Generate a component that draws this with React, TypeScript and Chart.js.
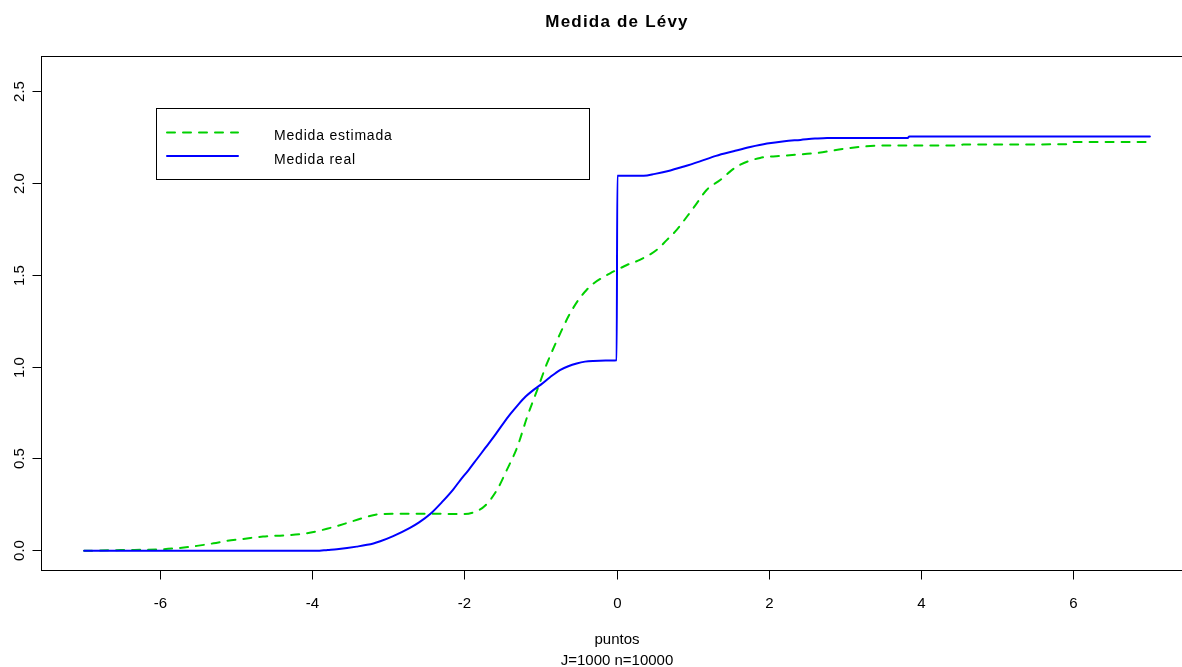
import { useEffect, useRef } from "react";
import { Chart, registerables } from "chart.js";
Chart.register(...registerables);

const title = "Medida de Lévy";
const xLabel = "puntos";
const subLabel = "J=1000 n=10000";
const seriesNames = ["Medida estimada", "Medida real"];

const xTicks = [-6, -4, -2, 0, 2, 4, 6];
const xTickLabels = ["-6", "-4", "-2", "0", "2", "4", "6"];
const yTicks = [0, 0.5, 1, 1.5, 2, 2.5];
const yTickLabels = ["0.0", "0.5", "1.0", "1.5", "2.0", "2.5"];

const realX = [-7, -3.95, -3.8, -3.68, -3.42, -3.2, -3.11, -2.94, -2.72, -2.6, -2.45, -2.3, -2.15, -2.06, -1.95, -1.84, -1.73, -1.62, -1.5, -1.4, -1.3, -1.2, -1.1, -1.0, -0.88, -0.75, -0.64, -0.53, -0.42, -0.31, -0.15, -0.005, 0.005, 0.35, 0.5, 0.66, 0.88, 1.09, 1.3, 1.53, 1.75, 1.97, 2.2, 2.41, 2.6, 2.76, 3.82, 3.84, 7];
const realY = [0, 0, 0.005, 0.009, 0.023, 0.04, 0.052, 0.08, 0.125, 0.155, 0.202, 0.265, 0.335, 0.384, 0.44, 0.5, 0.56, 0.62, 0.69, 0.745, 0.795, 0.84, 0.875, 0.905, 0.945, 0.984, 1.005, 1.02, 1.03, 1.034, 1.036, 1.038, 2.042, 2.042, 2.052, 2.066, 2.092, 2.12, 2.15, 2.175, 2.198, 2.217, 2.23, 2.237, 2.244, 2.248, 2.248, 2.256, 2.256];

const estX = [-7, -6.52, -5.96, -5.74, -5.52, -5.3, -5.12, -4.91, -4.65, -4.34, -4.07, -3.81, -3.55, -3.33, -3.11, -2.9, -2.4, -2.0, -1.85, -1.73, -1.58, -1.45, -1.31, -1.18, -1.05, -0.92, -0.75, -0.62, -0.5, -0.4, -0.31, -0.2, -0.09, 0.04, 0.13, 0.3, 0.52, 0.65, 0.79, 0.92, 1.05, 1.18, 1.36, 1.5, 1.62, 1.88, 2.19, 2.63, 3.06, 3.5, 4.5, 4.55, 5.9, 5.95, 7];
const estY = [0, 0.004, 0.009, 0.016, 0.027, 0.041, 0.055, 0.065, 0.078, 0.085, 0.096, 0.12, 0.151, 0.18, 0.2, 0.202, 0.202, 0.2, 0.215, 0.247, 0.329, 0.438, 0.565, 0.729, 0.874, 1.02, 1.18, 1.29, 1.37, 1.42, 1.455, 1.485, 1.511, 1.538, 1.556, 1.584, 1.638, 1.69, 1.75, 1.82, 1.893, 1.966, 2.02, 2.07, 2.102, 2.139, 2.151, 2.166, 2.193, 2.206, 2.206, 2.212, 2.213, 2.225, 2.225];

const GREEN = "#00d000";
const BLUE = "#0000ff";
const FONT = '"Liberation Sans", Arial, Helvetica, sans-serif';

export default function App() {
  const ref = useRef<HTMLCanvasElement>(null);

  useEffect(() => {
    const canvas = ref.current!;
    const px = (v: number) => Math.floor(v) + 0.5;

    const rbase = {
      id: "rbase",
      afterDraw(chart: any) {
        const { ctx, chartArea: a, scales } = chart;
        const xs = scales.x;
        const ys = scales.y;
        ctx.save();
        ctx.setLineDash([]);
        ctx.strokeStyle = "#000";
        ctx.lineWidth = 1;
        ctx.strokeRect(px(a.left), px(a.top), px(a.right) - px(a.left), px(a.bottom) - px(a.top));
        ctx.fillStyle = "#000";
        ctx.font = `15px ${FONT}`;
        ctx.textAlign = "center";
        ctx.textBaseline = "alphabetic";
        xTicks.forEach((v, i) => {
          const x = px(xs.getPixelForValue(v));
          ctx.beginPath();
          ctx.moveTo(x, px(a.bottom));
          ctx.lineTo(x, px(a.bottom) + 9);
          ctx.stroke();
          ctx.fillText(xTickLabels[i], x, 608);
        });
        yTicks.forEach((v, i) => {
          const y = px(ys.getPixelForValue(v));
          ctx.beginPath();
          ctx.moveTo(px(a.left), y);
          ctx.lineTo(px(a.left) - 9, y);
          ctx.stroke();
          ctx.save();
          ctx.translate(23.5, y);
          ctx.rotate(-Math.PI / 2);
          ctx.fillText(yTickLabels[i], 0, 0);
          ctx.restore();
        });
        const cx = (a.left + a.right) / 2;
        ctx.fillText(xLabel, cx, 644);
        ctx.fillText(subLabel, cx, 665);
        ctx.font = `bold 17px ${FONT}`;
        try { (ctx as any).letterSpacing = "1.2px"; } catch (e) {}
        ctx.fillText(title, cx, 27);
        try { (ctx as any).letterSpacing = "0px"; } catch (e) {}
        // legend
        ctx.strokeStyle = "#000";
        ctx.lineWidth = 1;
        ctx.strokeRect(156.5, 108.5, 433, 71);
        ctx.lineWidth = 2;
        ctx.lineCap = "round";
        ctx.strokeStyle = GREEN;
        ctx.setLineDash([8, 8]);
        ctx.beginPath();
        ctx.moveTo(167, 132.5);
        ctx.lineTo(238, 132.5);
        ctx.stroke();
        ctx.setLineDash([]);
        ctx.strokeStyle = BLUE;
        ctx.beginPath();
        ctx.moveTo(167, 156);
        ctx.lineTo(238, 156);
        ctx.stroke();
        ctx.font = `14px ${FONT}`;
        try { (ctx as any).letterSpacing = "0.8px"; } catch (e) {}
        ctx.textAlign = "left";
        ctx.fillStyle = "#000";
        ctx.fillText(seriesNames[0], 274, 140);
        ctx.fillText(seriesNames[1], 274, 163.5);
        ctx.restore();
      },
    };

    const chart = new Chart(canvas, {
      type: "line",
      data: {
        datasets: [
          {
            label: seriesNames[1],
            data: realX.map((x, i) => ({ x, y: realY[i] })),
            borderColor: BLUE,
            borderWidth: 2,
            pointRadius: 0,
            cubicInterpolationMode: "monotone",
            fill: false,
            borderJoinStyle: "round",
            borderCapStyle: "round",
          },
          {
            label: seriesNames[0],
            data: estX.map((x, i) => ({ x, y: estY[i] })),
            borderColor: GREEN,
            borderWidth: 2,
            borderDash: [8, 8],
            borderCapStyle: "round",
            borderJoinStyle: "round",
            pointRadius: 0,
            cubicInterpolationMode: "monotone",
            fill: false,
          },
        ],
      },
      options: {
        animation: false,
        responsive: false,
        devicePixelRatio: 1,
        layout: { padding: { left: 41.5, top: 56.5, right: 7.5, bottom: 96.5 } },
        plugins: { legend: { display: false }, tooltip: { enabled: false }, title: { display: false } },
        scales: {
          x: { type: "linear", min: -7.56, max: 7.56, display: false },
          y: { type: "linear", min: -0.107, max: 2.691, display: false },
        },
      },
      plugins: [rbase],
    } as any);
    return () => chart.destroy();
  }, []);

  return (
    <div style={{ position: "fixed", left: 0, top: 0, width: 1182, height: 667, overflow: "hidden", background: "#fff" }}>
      <canvas ref={ref} width={1200} height={667} style={{ display: "block", width: 1200, height: 667 }} />
    </div>
  );
}
